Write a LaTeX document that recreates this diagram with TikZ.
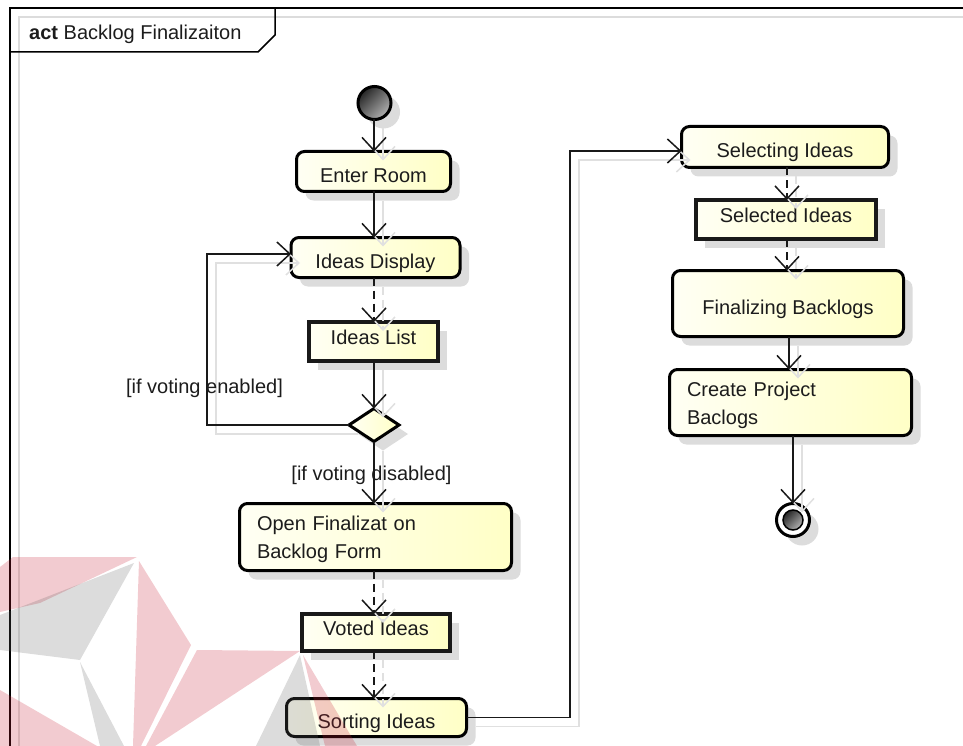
\documentclass[tikz,border=0pt]{standalone}
\usepackage{fontspec}
\setmainfont{Liberation Sans}
\usetikzlibrary{arrows.meta,shapes.geometric,shadows,calc}

\definecolor{inkc}{HTML}{1C1C1C}
\definecolor{boxL}{HTML}{FFFFF4}
\definecolor{boxR}{HTML}{FFFFC6}
\definecolor{shadowc}{HTML}{DCDCDC}
\definecolor{flowshadow}{HTML}{E0E0E0}
\definecolor{logored}{RGB}{200,30,50}
\definecolor{logogray}{RGB}{100,100,100}

% a flow: light grey copy shifted down-right, then the black line on top
\newcommand\flowpath[2]{%
  \draw[flowline,#1,draw=flowshadow,transform canvas={shift={(9,9)}}] #2;
  \draw[flowline,#1] #2;}

\begin{document}
\begin{tikzpicture}[x=1pt,y=-1pt,
  font=\fontsize{20}{28}\selectfont, text=inkc,
  nodeshadow/.style={drop shadow={shadow xshift=9pt,shadow yshift=-9pt,fill=shadowc,opacity=1}},
  action/.style={draw=black, line width=3pt, rounded corners=8pt,
    left color=boxL, right color=boxR, nodeshadow, inner sep=0pt, outer sep=0pt,
    text height=22pt, text depth=0pt},
  multiline/.style={align=left, inner xsep=17.5pt, text width=#1,
    text height=, text depth=, yshift=0pt},
  objbox/.style={draw=black!90, line width=4pt, left color=boxL, right color=boxR,
    nodeshadow, inner sep=0pt, outer sep=0pt, text height=10pt, text depth=4.6pt},
  choice/.style={diamond, draw=black, line width=3pt, left color=boxL, right color=boxR,
    nodeshadow, inner sep=0pt, outer sep=0pt},
  startdot/.style={circle, draw=black, line width=3pt, top color=black!85,
    bottom color=black!30, shading angle=45, inner sep=0pt, outer sep=0pt},
  flowline/.style={draw=black!90, line width=1.5pt, line join=miter,
    -{Straight Barb[length=13pt,width=24pt]}},
  guard/.style={inner sep=0pt},
  framepen/.style={draw=black, line width=1.5pt},
  logopink/.style={fill=logored, fill opacity=0.23, draw=none},
  logogrey/.style={fill=logogray, fill opacity=0.225, draw=none}]

\useasboundingbox (0,0) rectangle (963,746);

% frame of the activity and its name tab
\draw[shadowc, line width=1.5pt] (963,17) -- (19,17) -- (19,746);
\draw[framepen] (963,8) -- (10,8) -- (10,746);
\draw[framepen] (10,52) -- (258,52) -- (275,35) -- (275,8);
\node[anchor=base west, inner sep=0pt] (title) at (29,40) {\textbf{act} Backlog Finalizaiton};

% left column
\node[startdot, minimum size=33pt, nodeshadow] (init) at (374.5,103) {};
\node[action, minimum width=154pt, minimum height=40pt] (enter) at (373.5,171.5) {Enter Room};
\node[action, minimum width=169pt, minimum height=40pt] (display) at (375.5,257.5) {Ideas Display};
\node[objbox, minimum width=129pt, minimum height=39pt] (list) at (373.5,341.5) {Ideas List};
\node[choice, minimum width=50pt, minimum height=33pt] (vote) at (374,425) {};
\node[action, multiline=237pt, minimum width=272pt, minimum height=67pt] (openform) at (375.5,537)
  {\strut Open Finalizat on\\Backlog Form};
\node[objbox, minimum width=148pt, minimum height=37pt] (voted) at (376,632.5) {Voted Ideas};
\node[action, minimum width=180pt, minimum height=38pt] (sorting) at (376.5,717.5) {Sorting Ideas};

% right column
\node[action, minimum width=207pt, minimum height=41pt] (selecting) at (785,147) {Selecting Ideas};
\node[objbox, minimum width=180pt, minimum height=39pt] (selected) at (786,219.5) {Selected Ideas};
\node[action, minimum width=231pt, minimum height=66pt] (finalizing) at (788,303.5) {Finalizing Backlogs};
\node[action, multiline=207pt, minimum width=242pt, minimum height=66pt] (create) at (790.5,402.5)
  {\strut Create Project\\Baclogs};
\node[circle, draw=black, line width=3pt, fill=white, minimum size=33pt, inner sep=0pt,
  outer sep=0pt, nodeshadow] (final) at (793,520) {};
\node[startdot, line width=1.5pt, minimum size=20pt] (finalcore) at (final.center) {};

% flows
\flowpath{}{(init.south -| 374,0) -- (enter.north -| 374,0)}
\flowpath{}{(enter.south -| 374,0) -- (display.north -| 374,0)}
\flowpath{dashed, dash pattern=on 8pt off 5pt}{(display.south -| 374,0) -- (list.north -| 374,0)}
\flowpath{}{(list.south -| 374,0) -- (vote.north)}
\flowpath{}{(vote.west) -| (207,254) -- (display.west |- 0,254)}
\flowpath{}{(vote.south) -- (openform.north -| vote.south)}
\flowpath{dashed, dash pattern=on 8pt off 5pt}{(openform.south -| 374,0) -- (voted.north -| 374,0)}
\flowpath{dashed, dash pattern=on 8pt off 5pt}{(voted.south -| 374,0) -- (sorting.north -| 374,0)}
\flowpath{}{(sorting.east) -| (570,151) -- (selecting.west |- 0,151)}
\flowpath{dashed, dash pattern=on 8pt off 5pt}{(selecting.south -| 787,0) -- (selected.north -| 787,0)}
\flowpath{dashed, dash pattern=on 8pt off 5pt}{(selected.south -| 787,0) -- (finalizing.north -| 787,0)}
\flowpath{}{(finalizing.south -| 789,0) -- (create.north -| 789,0)}
\flowpath{}{(create.south -| final.north) -- (final.north)}

% guard labels
\node[guard] (enabled) at (204.5,388) {[if voting enabled]};
\node[guard] (disabled) at (371.5,475) {[if voting disabled]};

% faint emblem in the lower left corner
\fill[logopink] (0,567) -- (13,557) -- (137,557) -- (40,603) -- (0,612) -- cycle;
\fill[logopink] (139,561) -- (191,645) -- (141,746) -- (133,746) -- cycle;
\fill[logopink] (0,690) -- (97,746) -- (0,746) -- cycle;
\fill[logopink] (197,650) -- (300,651) -- (155,746) -- (146,746) -- cycle;
\fill[logopink] (303,655) -- (357,746) -- (325,746) -- cycle;
\fill[logogrey] (134,563) -- (80,660) -- (0,650) -- (0,615) -- cycle;
\fill[logogrey] (80,662) -- (124,746) -- (100,746) -- cycle;
\fill[logogrey] (300,655) -- (320,746) -- (256,746) -- cycle;
\end{tikzpicture}
\end{document}
